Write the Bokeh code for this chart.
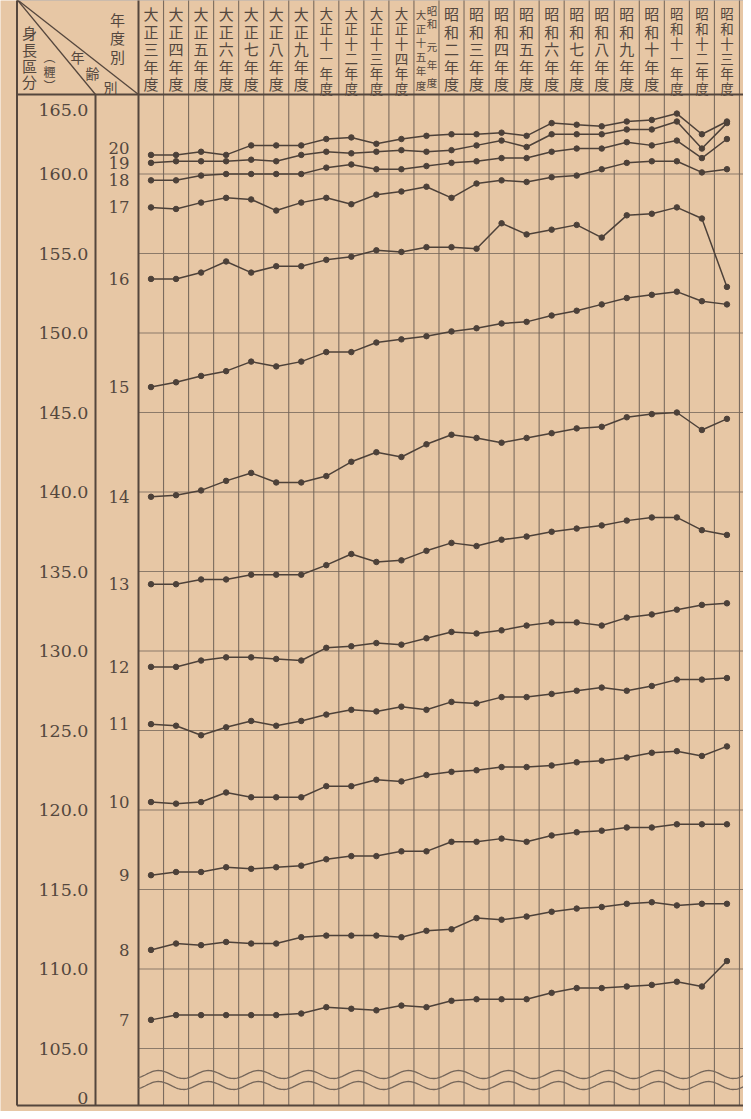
import numpy as np
from bokeh.plotting import figure
from bokeh.models import Range1d, ColumnDataSource
from bokeh.core.properties import value
from bokeh.embed import file_html
from bokeh.resources import INLINE

# ---------------- data ----------------
years = ["大正三年度", "大正四年度", "大正五年度", "大正六年度", "大正七年度", "大正八年度",
         "大正九年度", "大正十一年度", "大正十二年度", "大正十三年度", "大正十四年度",
         "大正十五年度・昭和元年度", "昭和二年度", "昭和三年度", "昭和四年度", "昭和五年度",
         "昭和六年度", "昭和七年度", "昭和八年度", "昭和九年度", "昭和十年度",
         "昭和十一年度", "昭和十二年度", "昭和十三年度"]

ages = [7, 8, 9, 10, 11, 12, 13, 14, 15, 16, 17, 18, 19, 20]

h7 = [106.8, 107.1, 107.1, 107.1, 107.1, 107.1, 107.2, 107.6, 107.5, 107.4, 107.7, 107.6,
      108.0, 108.1, 108.1, 108.1, 108.5, 108.8, 108.8, 108.9, 109.0, 109.2, 108.9, 110.5]
h8 = [111.2, 111.6, 111.5, 111.7, 111.6, 111.6, 112.0, 112.1, 112.1, 112.1, 112.0, 112.4,
      112.5, 113.2, 113.1, 113.3, 113.6, 113.8, 113.9, 114.1, 114.2, 114.0, 114.1, 114.1]
h9 = [115.9, 116.1, 116.1, 116.4, 116.3, 116.4, 116.5, 116.9, 117.1, 117.1, 117.4, 117.4,
      118.0, 118.0, 118.2, 118.0, 118.4, 118.6, 118.7, 118.9, 118.9, 119.1, 119.1, 119.1]
h10 = [120.5, 120.4, 120.5, 121.1, 120.8, 120.8, 120.8, 121.5, 121.5, 121.9, 121.8, 122.2,
       122.4, 122.5, 122.7, 122.7, 122.8, 123.0, 123.1, 123.3, 123.6, 123.7, 123.4, 124.0]
h11 = [125.4, 125.3, 124.7, 125.2, 125.6, 125.3, 125.6, 126.0, 126.3, 126.2, 126.5, 126.3,
       126.8, 126.7, 127.1, 127.1, 127.3, 127.5, 127.7, 127.5, 127.8, 128.2, 128.2, 128.3]
h12 = [129.0, 129.0, 129.4, 129.6, 129.6, 129.5, 129.4, 130.2, 130.3, 130.5, 130.4, 130.8,
       131.2, 131.1, 131.3, 131.6, 131.8, 131.8, 131.6, 132.1, 132.3, 132.6, 132.9, 133.0]
h13 = [134.2, 134.2, 134.5, 134.5, 134.8, 134.8, 134.8, 135.4, 136.1, 135.6, 135.7, 136.3,
       136.8, 136.6, 137.0, 137.2, 137.5, 137.7, 137.9, 138.2, 138.4, 138.4, 137.6, 137.3]
h14 = [139.7, 139.8, 140.1, 140.7, 141.2, 140.6, 140.6, 141.0, 141.9, 142.5, 142.2, 143.0,
       143.6, 143.4, 143.1, 143.4, 143.7, 144.0, 144.1, 144.7, 144.9, 145.0, 143.9, 144.6]
h15 = [146.6, 146.9, 147.3, 147.6, 148.2, 147.9, 148.2, 148.8, 148.8, 149.4, 149.6, 149.8,
       150.1, 150.3, 150.6, 150.7, 151.1, 151.4, 151.8, 152.2, 152.4, 152.6, 152.0, 151.8]
h16 = [153.4, 153.4, 153.8, 154.5, 153.8, 154.2, 154.2, 154.6, 154.8, 155.2, 155.1, 155.4,
       155.4, 155.3, 156.9, 156.2, 156.5, 156.8, 156.0, 157.4, 157.5, 157.9, 157.2, 152.9]
h17 = [157.9, 157.8, 158.2, 158.5, 158.4, 157.7, 158.2, 158.5, 158.1, 158.7, 158.9, 159.2,
       158.5, 159.4, 159.6, 159.5, 159.8, 159.9, 160.3, 160.7, 160.8, 160.8, 160.1, 160.3]
h18 = [159.6, 159.6, 159.9, 160.0, 160.0, 160.0, 160.0, 160.4, 160.6, 160.3, 160.3, 160.5,
       160.7, 160.8, 161.0, 161.0, 161.4, 161.6, 161.6, 162.0, 161.8, 162.1, 161.0, 162.2]
h19 = [160.7, 160.8, 160.8, 160.8, 160.9, 160.8, 161.2, 161.4, 161.3, 161.4, 161.5, 161.4,
       161.5, 161.8, 162.1, 161.7, 162.5, 162.5, 162.5, 162.8, 162.8, 163.3, 161.6, 163.2]
h20 = [161.2, 161.2, 161.4, 161.2, 161.8, 161.8, 161.8, 162.2, 162.3, 161.9, 162.2, 162.4,
       162.5, 162.5, 162.6, 162.4, 163.2, 163.1, 163.0, 163.3, 163.4, 163.8, 162.5, 163.3]

series = {7: h7, 8: h8, 9: h9, 10: h10, 11: h11, 12: h12, 13: h13, 14: h14,
          15: h15, 16: h16, 17: h17, 18: h18, 19: h19, 20: h20}

y_ticks = [165, 160, 155, 150, 145, 140, 135, 130, 125, 120, 115, 110, 105]
y_tick_labels = ["165.0", "160.0", "155.0", "150.0", "145.0", "140.0", "135.0",
                 "130.0", "125.0", "120.0", "115.0", "110.0", "105.0"]

# ---------------- geometry / style ----------------
W, H = 743, 1111          # figure placed at page offset (8, 8)
PX0 = 146.0               # page x of the left edge of the first year column
COLW = 25.04              # column width in px
PY165 = 102.0             # page y of the 165 cm line
PXCM = 15.9               # px per cm
PAPER = "#e7c7a5"
INK = "#54463d"
GRID = "#75665a"
TXT = "#54473e"
LINE = "#4d4139"
CJK = "Noto Sans CJK JP"
SERIF = "DejaVu Serif"


def X(px):
    return (px - PX0) / COLW - 0.5


def Y(py):
    return 165 - (py - PY165) / PXCM


p = figure(width=W, height=H, x_range=Range1d(X(8), X(751)), y_range=Range1d(Y(8 + H), Y(8)),
           output_backend="svg", toolbar_location=None, min_border=0, title=None,
           x_axis_location=None, y_axis_location=None,
           background_fill_color=PAPER, border_fill_color=PAPER, outline_line_color=None)
p.xgrid.visible = False
p.ygrid.visible = False

TOP, BOT, LEFT, RIGHT = 7.0, 1113.0, 24.5, 751.0
SEP1 = 103.0  # between value column and age column

# horizontal grid lines (every 5 cm) across the plot area
gy = [t for t in y_ticks[1:]]
p.segment(x0=[X(PX0)] * len(gy), y0=gy, x1=[X(RIGHT)] * len(gy), y1=gy,
          line_color=GRID, line_width=1.0, line_alpha=0.8)

# vertical column lines (through header and plot)
kx = [X(PX0 + k * COLW) for k in range(1, 25)]
p.segment(x0=kx, y0=[Y(TOP)] * len(kx), x1=kx, y1=[Y(BOT)] * len(kx),
          line_color=GRID, line_width=1.1, line_alpha=0.95)

# frame lines
frame_x0 = [X(LEFT), X(LEFT), X(LEFT), X(LEFT), X(SEP1), X(PX0)]
frame_y0 = [Y(TOP), 165, Y(BOT), Y(TOP), 165, Y(TOP)]
frame_x1 = [X(RIGHT), X(RIGHT), X(RIGHT), X(LEFT), X(SEP1), X(PX0)]
frame_y1 = [Y(TOP), 165, Y(BOT), Y(BOT), Y(BOT), Y(BOT)]
p.segment(x0=frame_x0, y0=frame_y0, x1=frame_x1, y1=frame_y1, line_color=INK, line_width=2)

# header diagonals
p.segment(x0=[X(LEFT), X(LEFT)], y0=[Y(TOP), Y(TOP)], x1=[X(SEP1), X(PX0)], y1=[165, 165],
          line_color=INK, line_width=1.3)

# axis break waves
wx = np.linspace(PX0, RIGHT, 400)
for c in (1082.0, 1093.0):
    wy = c - 4.0 * np.cos(2 * np.pi * (wx - 166.0) / 50.0)
    p.line([X(v) for v in wx], [Y(v) for v in wy], line_color=GRID, line_width=1.3)


def add_text(xs, ys, texts, sizes, font, align="center", baseline="middle"):
    src = ColumnDataSource(dict(x=xs, y=ys, text=texts, size=sizes))
    p.text(x="x", y="y", text="text", source=src, text_font=value(font),
           text_font_size="size", text_align=align, text_baseline=baseline,
           text_color=TXT)


# header year labels, written vertically character by character
hx, hy, ht, hs = [], [], [], []
for i, lab in enumerate(years):
    if "・" in lab:
        a, b = lab.split("・")
        for ch, py in zip(a, [22, 36, 50, 64, 78, 93]):
            hx.append(i - 0.22); hy.append(Y(py)); ht.append(ch); hs.append("10.5px")
        for ch, py in zip(b, [18, 31, 54, 72, 90]):
            hx.append(i + 0.22); hy.append(Y(py)); ht.append(ch); hs.append("10.5px")
    elif len(lab) == 5:
        for ch, py in zip(lab, [21, 38.5, 56, 73.5, 91]):
            hx.append(i); hy.append(Y(py)); ht.append(ch); hs.append("15px")
    else:
        for ch, py in zip(lab, [20, 35, 50, 65, 80, 95]):
            hx.append(i); hy.append(Y(py)); ht.append(ch); hs.append("13.5px")
add_text(hx, hy, ht, hs, CJK)

# corner cell texts
cx = [37] * 4 + [57, 57, 57] + [85, 100, 118] + [125, 125, 125]
cy = [40, 57, 73, 89] + [64, 79, 93] + [64, 80, 94] + [27, 45, 64]
ct = list("身長區分") + ["︵", "糎", "︶"] + list("年齢別") + list("年度別")
cs = ["15px"] * 4 + ["12px"] * 3 + ["14px"] * 3 + ["15px"] * 3
add_text([X(v) for v in cx], [Y(v) for v in cy], ct, cs, CJK)

# value column labels
ty = [t for t in y_ticks]
ty[0] = 165 - 0.95
add_text([X(96)] * len(ty) + [X(96)], ty + [Y(1105)], y_tick_labels + ["0"],
         ["17.5px"] * (len(ty) + 1), SERIF, align="right")

# age labels at the start of each series
ay = [series[a][0] + (0.45 if a == 20 else 0.0) for a in ages]
add_text([X(137)] * len(ages), ay, [str(a) for a in ages], ["16.5px"] * len(ages),
         SERIF, align="right")

# data lines
xs = list(range(len(years)))
for a in ages:
    p.line(xs, series[a], line_color=LINE, line_width=1.5)
    p.scatter(xs, series[a], size=5.5, marker="circle", fill_color=LINE, line_color=LINE)

open("out.html", "w").write(file_html(p, INLINE))
